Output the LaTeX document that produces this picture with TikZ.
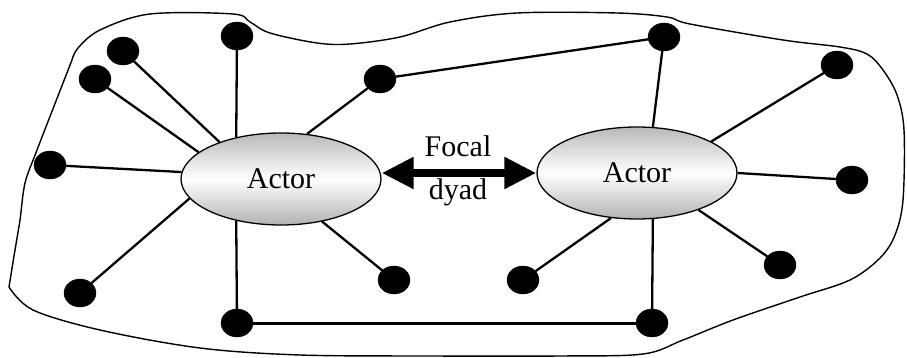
\documentclass[tikz,border=0pt]{standalone}
\usepackage{fontspec}
\setmainfont{Liberation Serif}
\usetikzlibrary{shapes.geometric,arrows.meta}
\begin{document}
\begin{tikzpicture}[x=1pt,y=-1pt,
  dot/.style={ellipse,fill=black,draw=black,minimum width=32pt,minimum height=28pt,inner sep=0pt},
  actor/.style={ellipse,draw=black,line width=1.3pt,minimum width=200pt,minimum height=92pt,inner sep=0pt,
    top color=gray!55,bottom color=gray!60,middle color=white,
    font=\fontsize{30}{36}\selectfont},
  spoke/.style={line width=2.3pt,black},
  lab/.style={font=\fontsize{30}{36}\selectfont,inner sep=0pt},
  boundary/.style={line width=1.4pt,black},
  dyadarrow/.style={line width=8pt,{Triangle[length=32pt,width=30pt]}-{Triangle[length=32pt,width=30pt]}}]
\useasboundingbox (0,0) rectangle (907,358);
% boundary
\draw[boundary] plot[smooth,tension=0.55] coordinates {(72,60) (78,48) (100,30) (150,14) (233,14) (250,22) (270,33) (317,43) (350,44) (400,37) (450,22) (517,13) (617,13) (667,17) (690,24) (783,40) (840,47) (867,54) (883,70) (897,95) (904,130) (903,200) (895,235) (880,258) (850,280) (800,297) (733,320) (683,340) (643,354) (560,356) (430,356) (300,355) (200,348) (100,330) (33,310) (9,287)}
  plot[smooth,tension=0.5] coordinates {(9,287) (15,250) (20,220) (25,183) (37,150) (72,60)};
% actors
\node[actor] (L) at (281,179) {Actor};
\node[actor] (R) at (637,173) {Actor};
% dots
\node[dot] (D1) at (237,36) {};
\node[dot] (D2) at (123,51) {};
\node[dot] (D3) at (95,79) {};
\node[dot] (D4) at (380,79) {};
\node[dot] (D5) at (50,165) {};
\node[dot] (D6) at (80,293) {};
\node[dot] (D7) at (237,323) {};
\node[dot] (D8) at (394,280) {};
\node[dot] (D9) at (664,37) {};
\node[dot] (D10) at (837,65) {};
\node[dot] (D11) at (852,180) {};
\node[dot] (D12) at (780,265) {};
\node[dot] (D13) at (523,280) {};
\node[dot] (D14) at (652,323) {};
% spokes left
\draw[spoke] (D1) -- (L.137);
\draw[spoke] (D2) -- (L.149);
\draw[spoke] (D3) -- (L.162);
\draw[spoke] (D4) -- (L.60);
\draw[spoke] (D5) -- (L.176);
\draw[spoke] (D6) -- (L.-168);
\draw[spoke] (D7) -- (L.-137);
\draw[spoke] (D8) -- (L.-46);
% spokes right
\draw[spoke] (D9) -- (R.71);
\draw[spoke] (D10) -- (R.23);
\draw[spoke] (D11) -- (R.east);
\draw[spoke] (D12) -- (R.-31);
\draw[spoke] (D13) -- (R.-120);
\draw[spoke] (D14) -- (R.-71);
% cross links
\draw[spoke] (D4) -- (D9);
\draw[spoke,line width=3pt] (D7) -- (D14);
% focal dyad
\draw[dyadarrow] (L.east |- R.west) -- (R.west);
\node[lab] (F) at (458,146) {Focal};
\node[lab] (Dy) at (458,192) {dyad};
\end{tikzpicture}
\end{document}
